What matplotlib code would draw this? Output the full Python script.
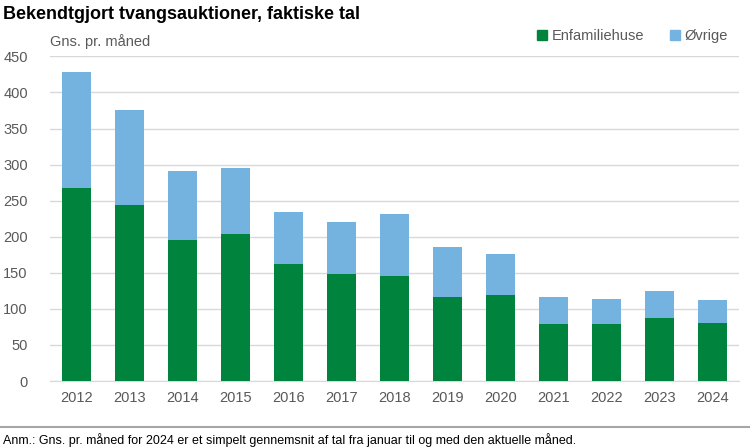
import matplotlib.pyplot as plt
import numpy as np
from matplotlib.lines import Line2D

years = ['2012', '2013', '2014', '2015', '2016', '2017', '2018',
         '2019', '2020', '2021', '2022', '2023', '2024']
# Gns. pr. maaned, aflaest fra figuren
enfamiliehuse = [267, 244, 196, 204, 162, 148, 146, 117, 119, 79, 79, 87, 80]
total = [428, 375, 291, 295, 234, 221, 231, 186, 176, 116, 114, 125, 112]
oevrige = [t - e for t, e in zip(total, enfamiliehuse)]

green = '#00843d'
blue = '#74b3e0'
grey_txt = '#595959'

plt.rcParams['font.family'] = ['Liberation Sans', 'DejaVu Sans']

fig = plt.figure(figsize=(7.5, 4.48), dpi=100)
ax = fig.add_axes([50 / 750, 1 - 381 / 448, 689 / 750, 324.6 / 448])

x = np.arange(len(years))
ax.bar(x, enfamiliehuse, width=0.56, color=green, zorder=3)
ax.bar(x, oevrige, width=0.56, bottom=enfamiliehuse, color=blue, zorder=3)

ax.set_xlim(-0.5, len(years) - 0.5)
ax.set_ylim(0, 450)
ax.set_yticks(np.arange(0, 451, 50))
ax.set_xticks(x)
ax.set_xticklabels(years)
ax.grid(axis='y', color='#d9d9d9', linewidth=1, zorder=0)
for s in ['top', 'right', 'left']:
    ax.spines[s].set_visible(False)
ax.spines['bottom'].set_color('#d9d9d9')
ax.tick_params(axis='both', length=0, labelsize=10.5, colors=grey_txt, pad=7)
ax.tick_params(axis='y', pad=16)

fig.text(0.004, 0.968, 'Bekendtgjort tvangsauktioner, faktiske tal',
         fontsize=13, fontweight='bold', va='center', ha='left', color='black')
fig.text(50 / 750, 1 - 42 / 448, 'Gns. pr. måned', fontsize=10.5,
         color=grey_txt, va='center', ha='left')

handles = [Line2D([], [], marker='s', linestyle='', color=green, markersize=6.5),
           Line2D([], [], marker='s', linestyle='', color=blue, markersize=6.5)]
fig.legend(handles, ['Enfamiliehuse', 'Øvrige'], loc='center right',
           bbox_to_anchor=(728 / 750, 1 - 36 / 448), ncol=2, frameon=False,
           fontsize=10.5, labelcolor=grey_txt, handletextpad=0.3,
           columnspacing=1.8, handlelength=0.7, borderaxespad=0, borderpad=0)

fig.add_artist(Line2D([0, 1], [1 - 427 / 448, 1 - 427 / 448],
                      transform=fig.transFigure, color='#a6a6a6', linewidth=1.5))
fig.text(0.004, 1 - 440 / 448,
         'Anm.: Gns. pr. måned for 2024 er et simpelt gennemsnit af tal fra januar til og med den aktuelle måned.',
         fontsize=9, color='black', va='center', ha='left')

fig.savefig('out.png', dpi=100)
